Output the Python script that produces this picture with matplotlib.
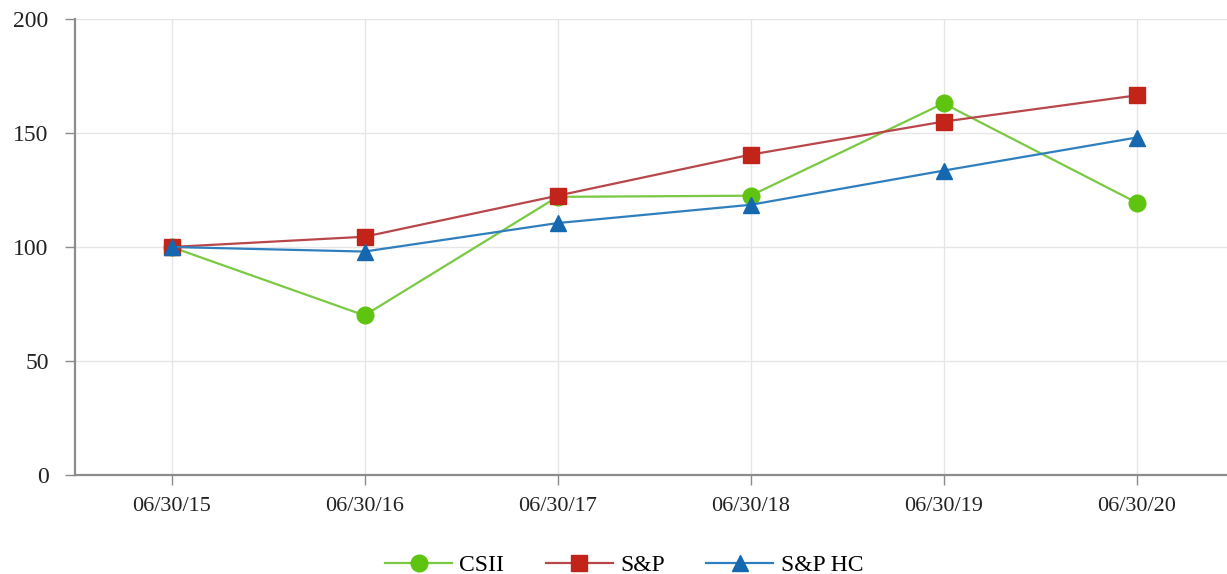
import matplotlib
matplotlib.use("Agg")
import matplotlib.pyplot as plt

plt.rcParams['font.family'] = ['Liberation Serif', 'DejaVu Serif']

# Data
dates = ["06/30/15", "06/30/16", "06/30/17", "06/30/18", "06/30/19", "06/30/20"]
csii = [100, 70, 122, 122.5, 163, 119.5]
sp = [100, 104.5, 122.5, 140.5, 155, 166.5]
sp_hc = [100, 98, 110.5, 118.5, 133.5, 148]

fig = plt.figure(figsize=(12.27, 5.74), dpi=100)
ax = fig.add_axes([75 / 1227, 99 / 574, 1158 / 1227, 456 / 574])

x = range(len(dates))
ax.plot(x, csii, color='#7ac943', lw=1.6, marker='o', ms=12,
        mfc='#5fc40f', mec='#5fc40f', label='CSII', zorder=3)
ax.plot(x, sp, color='#b9464a', lw=1.6, marker='s', ms=11.5,
        mfc='#c3241a', mec='#c3241a', label='S&P', zorder=4)
ax.plot(x, sp_hc, color='#2f7fbf', lw=1.6, marker='^', ms=12,
        mfc='#1568b0', mec='#1568b0', label='S&P HC', zorder=5)

ax.set_xlim(-0.5, 5.5)
ax.set_ylim(0, 200)
ax.set_xticks(list(x))
ax.set_xticklabels(dates)
ax.set_yticks([0, 50, 100, 150, 200])

ax.grid(True, color='#e6e6e6', lw=1)
ax.set_axisbelow(True)
for s in ['top', 'right']:
    ax.spines[s].set_visible(False)
for s in ['left', 'bottom']:
    ax.spines[s].set_color('#8c8c8c')
    ax.spines[s].set_linewidth(1.6)
ax.tick_params(axis='both', colors='#8c8c8c', length=7, width=1,
               labelcolor='#222222', labelsize=16, pad=9)
ax.tick_params(axis='y', labelsize=17, pad=12)

# legend sits below the axis, centred around the middle of the plot
ax.legend(loc='center', bbox_to_anchor=(549 / 1158, -0.198), ncol=3,
          frameon=False, fontsize=17, handlelength=2.85, columnspacing=1.75,
          handletextpad=0.3, borderpad=0.0)

fig.savefig("out.png", dpi=100)
